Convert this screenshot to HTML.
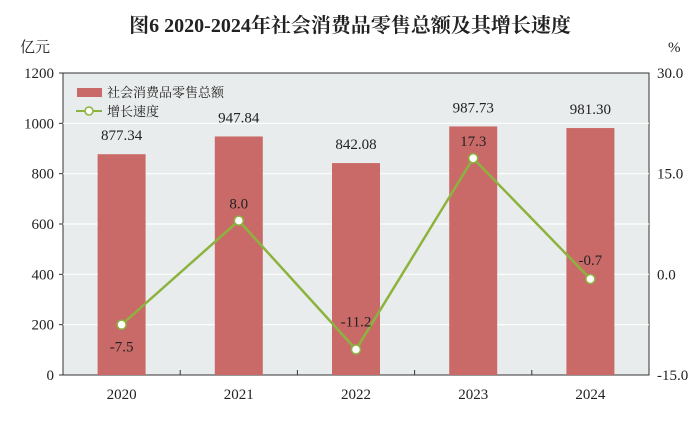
<!DOCTYPE html>
<html><head><meta charset="utf-8"><style>
body{margin:0;background:#fff;}
svg text{font-family:"Liberation Serif","Noto Serif CJK SC",serif;}
</style></head><body>
<svg width="700" height="417" xmlns="http://www.w3.org/2000/svg" id="chart">
<text x="350" y="32" text-anchor="middle" font-size="20" font-weight="bold" fill="#222">图6  2020-2024年社会消费品零售总额及其增长速度</text>
<text x="20" y="52" font-size="15" fill="#222">亿元</text>
<text x="668" y="52" font-size="15" fill="#222">%</text>
<rect x="63" y="73" width="586" height="302" fill="#e9ecec" stroke="#333" stroke-width="1"/>
<g id="grid"></g><g id="bars"></g><g id="line"></g><g id="axes"></g>
<g>
<rect x="77" y="88" width="25" height="9" fill="#c96a68"/>
<text x="107" y="97" font-size="13" fill="#222">社会消费品零售总额</text>
<line x1="76" y1="111" x2="102" y2="111" stroke="#8db33f" stroke-width="2"/>
<circle cx="89" cy="111" r="4" fill="#fff" stroke="#8db33f" stroke-width="1.5"/>
<text x="107" y="116" font-size="13" fill="#222">增长速度</text>
</g>
</svg>
<script>
const categories=["2020","2021","2022","2023","2024"];
const salesValues=[877.34,947.84,842.08,987.73,981.30];
const growthValues=[-7.5,8.0,-11.2,17.3,-0.7];
const leftTicks=[0,200,400,600,800,1000,1200];
const rightTicks=["-15.0","0.0","15.0","30.0"];
const NS="http://www.w3.org/2000/svg";
const L=63,R=649,T=73,B=375,W=R-L,H=B-T;
const yL=v=>B-v/1200*H;
const yR=v=>B-(v+15)/45*H;
const xC=i=>L+W/categories.length*(i+0.5);
function mk(tag,attrs,parent,text){const e=document.createElementNS(NS,tag);for(const k in attrs)e.setAttribute(k,attrs[k]);if(text!==undefined)e.textContent=text;document.getElementById(parent).appendChild(e);return e;}
leftTicks.forEach(v=>{
 if(v>0&&v<1200){const g=mk('line',{x1:L,x2:R,y1:yL(v),y2:yL(v),stroke:'#fff','stroke-width':1.2},'grid');
 
 }
 const tk=mk('line',{x1:L-4,x2:L,y1:yL(v),y2:yL(v),stroke:'#333'},'axes');
 
 
 const t=mk('text',{x:L-9,y:yL(v)+5,'text-anchor':'end','font-size':15,fill:'#222'},'axes',String(v));
 
 
});
rightTicks.forEach(s=>{
 const v=parseFloat(s);
 const t=mk('text',{x:R+8,y:yR(v)+5,'font-size':15,fill:'#222'},'axes',s);
 
 
});
for(let i=1;i<categories.length;i++){
 const x=L+W/categories.length*i;
 const tk=mk('line',{x1:x,x2:x,y1:B-5,y2:B,stroke:'#333'},'axes');
 
 
}
categories.forEach((c,i)=>{
 const x=xC(i);
 const b=mk('rect',{x:x-24,y:yL(salesValues[i]),width:48,height:B-yL(salesValues[i]),fill:'#c96a68'},'bars');
 
 
 const bl=mk('text',{x:x,y:yL(salesValues[i])-14,'text-anchor':'middle','font-size':15,fill:'#222'},'bars',salesValues[i].toFixed(2));
 
 
 const xl=mk('text',{x:x,y:B+24,'text-anchor':'middle','font-size':15,fill:'#222'},'axes',c);
 
 
});
const pts=growthValues.map((v,i)=>xC(i)+','+yR(v)).join(' ');
const pl=mk('polyline',{points:pts,fill:'none',stroke:'#8db33f','stroke-width':2.5},'line');


growthValues.forEach((v,i)=>{
 const c=mk('circle',{cx:xC(i),cy:yR(v),r:4.5,fill:'#fff',stroke:'#8db33f','stroke-width':1.5},'line');
 
 
 const up=(i===1||i===3);
 const t=mk('text',{x:xC(i),y:up?yR(v)-12:yR(v)+27,'text-anchor':'middle','font-size':15,fill:'#222'},'line',v.toFixed(1));
 if(i===2){t.setAttribute('y',yR(v)-23);}
 if(i===4){t.setAttribute('y',yR(v)-14);}
 
 
});
</script>
</body></html>
